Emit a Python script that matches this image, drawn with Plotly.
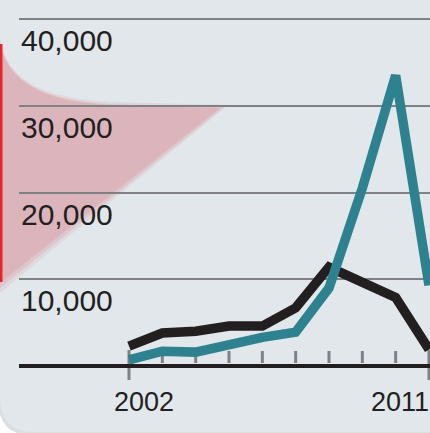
import plotly.graph_objects as go

# ---- data ----
years = [2002, 2003, 2004, 2005, 2006, 2007, 2008, 2009, 2010, 2011]
series_black = [2300, 3800, 4000, 4600, 4600, 6700, 11400, 9500, 7900, 1900]
series_teal = [700, 1700, 1600, 2500, 3300, 3900, 9000, 20500, 33500, 9300]
y_ticks = [10000, 20000, 30000, 40000]
y_tick_labels = ["10,000", "20,000", "30,000", "40,000"]
x_labels = ["2002", "2011"]

W, H = 430, 433
BASE_PX = 366.0
PX_PER_10K = 86.75
X0_PX, STEP_PX = 129.0, 33.333

def px_to_val(py):
    return (BASE_PX - py) / PX_PER_10K * 10000

def px_to_year(px):
    return years[0] + (px - X0_PX) / STEP_PX

def P(px, py):
    return f"{px / W:.5f},{1 - py / H:.5f}"

BG = "#e1e7eb"
DARK = "#231f20"
TEAL = "#2e8290"
GRID = "#7f8184"
PINK = "#dcb5bc"
RED = "#e8232b"
FONT = "Liberation Sans, Arial, sans-serif"

fig = go.Figure()
fig.add_trace(go.Scatter(x=years, y=series_black, mode="lines",
                         line=dict(color=DARK, width=9.5), hoverinfo="skip"))
fig.add_trace(go.Scatter(x=years, y=series_teal, mode="lines",
                         line=dict(color=TEAL, width=9.5), hoverinfo="skip"))

shapes = []
# soft shadow near bottom-left corner
shapes.append(dict(type="path", xref="paper", yref="paper", layer="below",
                   path=f"M {P(-2,0)} L {P(432,0)} L {P(432,435)} L {P(30,435)} Q {P(-2,435)} {P(-2,398)} Z",
                   fillcolor="rgba(120,125,130,0.25)", line=dict(width=0)))
# panel with rounded bottom-left corner
shapes.append(dict(type="path", xref="paper", yref="paper", layer="below",
                   path=f"M {P(0,0)} L {P(432,0)} L {P(432,432)} L {P(34,432)} Q {P(0,432)} {P(0,396)} Z",
                   fillcolor=BG, line=dict(width=0)))
# pink wedge (soft edge layers + core)
shapes.append(dict(type="path", xref="paper", yref="paper", layer="below",
                   path=f"M {P(0,39)} C {P(7,79)} {P(40,98)} {P(110,102)} L {P(228,105)} L {P(0,293)} Z",
                   fillcolor=PINK, opacity=0.3, line=dict(width=0)))
shapes.append(dict(type="path", xref="paper", yref="paper", layer="below",
                   path=f"M {P(0,42)} C {P(8,80)} {P(40,100)} {P(110,104)} L {P(224,107)} L {P(0,288)} Z",
                   fillcolor=PINK, opacity=0.5, line=dict(width=0)))
shapes.append(dict(type="path", xref="paper", yref="paper", layer="below",
                   path=f"M {P(0,45)} C {P(10,82)} {P(40,101)} {P(110,105)} L {P(220,108)} L {P(0,283)} Z",
                   fillcolor=PINK, line=dict(width=0)))
# red edge
shapes.append(dict(type="line", xref="paper", yref="paper", layer="below",
                   x0=1 / W, x1=1 / W, y0=1 - 44 / H, y1=1 - 282 / H,
                   line=dict(color=RED, width=3)))
# tick marks
for i, yr in enumerate(years):
    if i == 0 or i == len(years) - 1:
        y0, y1 = px_to_val(350), px_to_val(380)
    else:
        y0, y1 = px_to_val(351), px_to_val(363)
    shapes.append(dict(type="line", xref="x", yref="y", layer="below",
                       x0=yr, x1=yr, y0=y0, y1=y1,
                       line=dict(color=GRID, width=3)))

annotations = []
for v, t in zip(y_ticks, y_tick_labels):
    annotations.append(dict(xref="paper", yref="y", x=19 / W, y=v, text=t,
                            showarrow=False, xanchor="left", yanchor="middle",
                            yshift=-21.5, font=dict(family=FONT, size=30, color=DARK)))
annotations.append(dict(xref="x", yref="y", x=years[0], y=0, text=x_labels[0],
                        showarrow=False, xanchor="center", yanchor="middle",
                        xshift=14.5, yshift=-35.5,
                        font=dict(family=FONT, size=27, color=DARK)))
annotations.append(dict(xref="x", yref="y", x=years[-1], y=0, text=x_labels[1],
                        showarrow=False, xanchor="right", yanchor="middle",
                        xshift=2, yshift=-35.5,
                        font=dict(family=FONT, size=27, color=DARK)))

fig.update_layout(
    width=W, height=H, autosize=False,
    margin=dict(l=0, r=0, t=0, b=0, pad=0),
    paper_bgcolor="white", plot_bgcolor="rgba(0,0,0,0)",
    showlegend=False,
    shapes=shapes, annotations=annotations,
    xaxis=dict(domain=[19 / W, 1], range=[px_to_year(19), px_to_year(430)],
               showgrid=False, zeroline=False, showticklabels=False,
               ticks="", showline=False, fixedrange=True),
    yaxis=dict(range=[px_to_val(H), px_to_val(0)],
               tickvals=y_ticks, showticklabels=False, ticks="",
               showgrid=True, gridcolor=GRID, gridwidth=2,
               zeroline=True, zerolinecolor=DARK, zerolinewidth=4,
               showline=False, fixedrange=True),
)

fig.write_html("out.html", config={"displayModeBar": False},
               post_script="document.body.style.margin='0';document.body.style.overflow='hidden';")
